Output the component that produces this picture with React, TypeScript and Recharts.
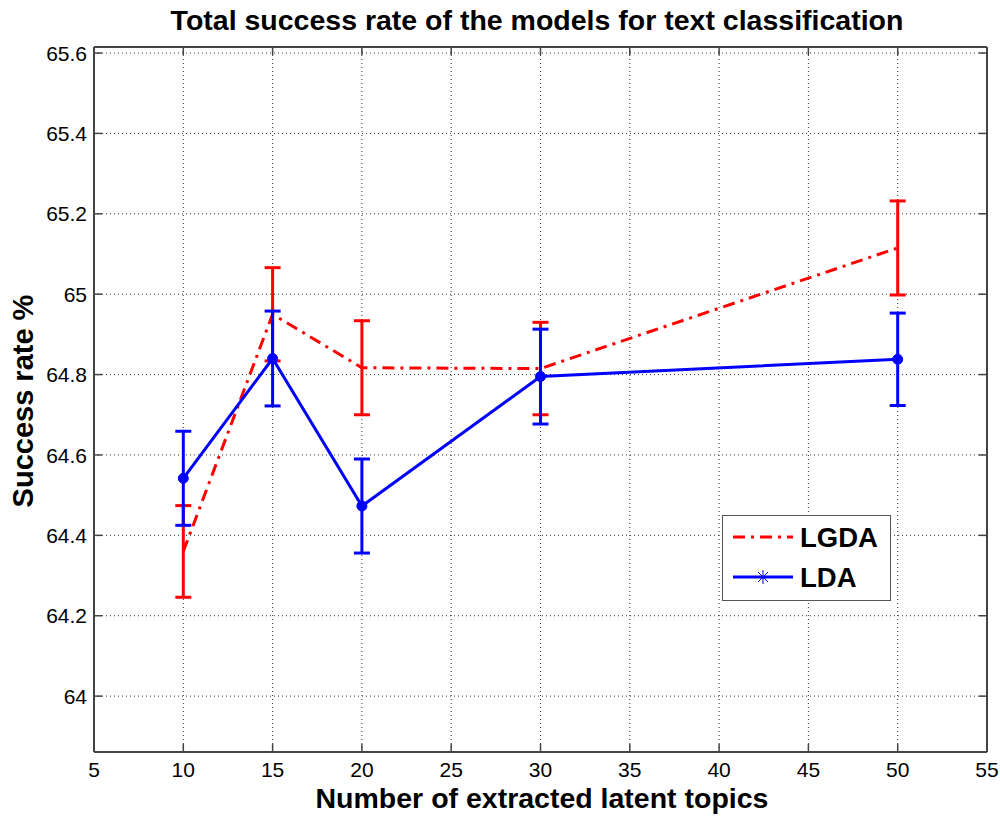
import React from 'react';
import { LineChart, Line, XAxis, YAxis, CartesianGrid, ErrorBar } from 'recharts';

const topics = [10, 15, 20, 30, 50];
const lgdaRate = [64.36, 64.95, 64.817, 64.815, 65.115];
const lgdaErr = [0.114, 0.116, 0.117, 0.115, 0.117];
const ldaRate = [64.542, 64.84, 64.473, 64.795, 64.838];
const ldaErr = [0.117, 0.118, 0.117, 0.118, 0.115];

const xTicks = [5, 10, 15, 20, 25, 30, 35, 40, 45, 50, 55];
const yTicks = [64, 64.2, 64.4, 64.6, 64.8, 65, 65.2, 65.4, 65.6];
const yTickLabels = ['64', '64.2', '64.4', '64.6', '64.8', '65', '65.2', '65.4', '65.6'];

const data = topics.map((t, i) => ({
  topics: t,
  lgda: lgdaRate[i],
  lgdaErr: lgdaErr[i],
  lda: ldaRate[i],
  ldaErr: ldaErr[i],
}));

const FONT = '"Liberation Sans", Arial, Helvetica, sans-serif';
const TICK_LEN = 8;
const AXIS_COLOR = '#444';
const TICK_FONT = 21;

const BottomTick = (props: any) => {
  const { x, y, payload } = props;
  const axisY = y - 10;
  return (
    <g>
      <line x1={x} x2={x} y1={axisY} y2={axisY - TICK_LEN} stroke={AXIS_COLOR} strokeWidth={1.5} />
      <text x={x} y={y} dy="0.71em" textAnchor="middle" fontSize={TICK_FONT} fontFamily={FONT} fill="#000">
        {payload.value}
      </text>
    </g>
  );
};

const LeftTick = (props: any) => {
  const { x, y, payload } = props;
  const axisX = x + 7;
  const idx = yTicks.indexOf(payload.value);
  return (
    <g>
      <line x1={axisX} x2={axisX + TICK_LEN} y1={y} y2={y} stroke={AXIS_COLOR} strokeWidth={1.5} />
      <text x={x} y={y} dy="0.36em" textAnchor="end" fontSize={TICK_FONT} fontFamily={FONT} fill="#000">
        {idx >= 0 ? yTickLabels[idx] : payload.value}
      </text>
    </g>
  );
};

const TopTick = (props: any) => {
  const { x, y } = props;
  return <line x1={x} x2={x} y1={y} y2={y + TICK_LEN} stroke={AXIS_COLOR} strokeWidth={1.5} />;
};

const RightTick = (props: any) => {
  const { x, y } = props;
  return <line x1={x} x2={x - TICK_LEN} y1={y} y2={y} stroke={AXIS_COLOR} strokeWidth={1.5} />;
};

export default function App() {
  return (
    <div style={{ position: 'absolute', left: 0, top: 0, width: 1000, height: 816, background: '#fff' }}>
      <LineChart
        width={1000}
        height={816}
        data={data}
        margin={{ top: 46, right: 12, bottom: 0, left: 0 }}
      >
        <CartesianGrid stroke="#333" strokeDasharray="1 3" strokeWidth={1} />
        <XAxis
          dataKey="topics"
          type="number"
          domain={[5, 55]}
          ticks={xTicks}
          allowDataOverflow
          height={64}
          tickSize={0}
          tickMargin={10}
          tickLine={false}
          axisLine={{ stroke: AXIS_COLOR, strokeWidth: 2 }}
          tick={<BottomTick />}
          interval={0}
        />
        <XAxis
          xAxisId="top"
          orientation="top"
          dataKey="topics"
          type="number"
          domain={[5, 55]}
          ticks={xTicks}
          allowDataOverflow
          height={1}
          tickSize={0}
          tickMargin={0}
          tickLine={false}
          axisLine={{ stroke: AXIS_COLOR, strokeWidth: 2 }}
          tick={<TopTick />}
          interval={0}
        />
        <YAxis
          type="number"
          domain={[63.861, 65.615]}
          ticks={yTicks}
          allowDataOverflow
          width={94}
          tickSize={0}
          tickMargin={7}
          tickLine={false}
          axisLine={{ stroke: AXIS_COLOR, strokeWidth: 2 }}
          tick={<LeftTick />}
          interval={0}
        />
        <YAxis
          yAxisId="right"
          orientation="right"
          type="number"
          domain={[63.861, 65.615]}
          ticks={yTicks}
          allowDataOverflow
          width={1}
          tickSize={0}
          tickMargin={0}
          tickLine={false}
          axisLine={{ stroke: AXIS_COLOR, strokeWidth: 2 }}
          tick={<RightTick />}
          interval={0}
        />
        <Line
          dataKey="lgda"
          stroke="#ff0000"
          strokeWidth={3}
          strokeDasharray="12 6 3 6"
          dot={false}
          activeDot={false}
          isAnimationActive={false}
          type="linear"
        >
          <ErrorBar dataKey="lgdaErr" direction="y" width={8} stroke="#ff0000" strokeWidth={3} isAnimationActive={false} />
        </Line>
        <Line
          dataKey="lda"
          stroke="#0000ff"
          strokeWidth={3}
          dot={{ r: 5, fill: '#0000ff', stroke: '#0000ff', strokeWidth: 1 }}
          activeDot={false}
          isAnimationActive={false}
          type="linear"
        >
          <ErrorBar dataKey="ldaErr" direction="y" width={8} stroke="#0000ff" strokeWidth={3} isAnimationActive={false} />
        </Line>
        <text x={537} y={30} textAnchor="middle" fontSize={28.5} fontWeight="bold" fontFamily={FONT} fill="#000">
          Total success rate of the models for text classification
        </text>
        <text x={542} y={808} textAnchor="middle" fontSize={28.5} fontWeight="bold" fontFamily={FONT} fill="#000">
          Number of extracted latent topics
        </text>
        <text
          x={33}
          y={401}
          textAnchor="middle"
          fontSize={29}
          fontWeight="bold"
          fontFamily={FONT}
          fill="#000"
          transform="rotate(-90 33 401)"
        >
          Success rate %
        </text>
      </LineChart>
      <div
        style={{
          position: 'absolute',
          left: 722,
          top: 515,
          width: 169,
          height: 86,
          border: '1.5px solid #555',
          background: '#fff',
          boxSizing: 'border-box',
        }}
      >
        <svg width={169} height={86} style={{ position: 'absolute', left: -1.5, top: -1.5 }}>
          <line x1={11} x2={71} y1={22} y2={22} stroke="#ff0000" strokeWidth={3} strokeDasharray="12 6 3 6" />
          <line x1={11} x2={71} y1={62} y2={62} stroke="#0000ff" strokeWidth={3} />
          <g stroke="#0000ff" strokeWidth={1}>
            <line x1={41} x2={41} y1={55} y2={69} />
            <line x1={34} x2={48} y1={62} y2={62} />
            <line x1={36} x2={46} y1={57} y2={67} />
            <line x1={36} x2={46} y1={67} y2={57} />
          </g>
          <text x={78} y={32} fontSize={27.5} fontWeight="bold" fontFamily={FONT} fill="#000">LGDA</text>
          <text x={78} y={72} fontSize={27.5} fontWeight="bold" fontFamily={FONT} fill="#000">LDA</text>
        </svg>
      </div>
    </div>
  );
}
